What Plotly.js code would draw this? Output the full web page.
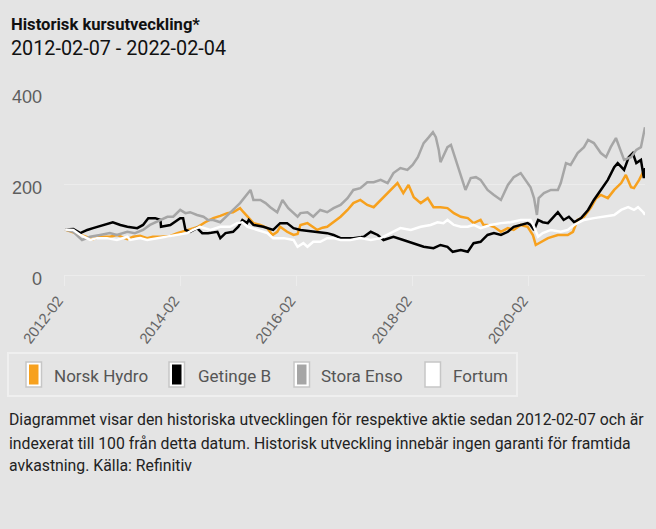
<!DOCTYPE html>
<html>
<head>
<meta charset="utf-8">
<script src="https://cdn.plot.ly/plotly-3.0.1.min.js"></script>
<style>html,body{margin:0;padding:0;background:#e4e4e4;}#chart{width:656px;height:529px;}</style>
</head>
<body>
<div id="chart"></div>
<script>
// Series names and colours
const seriesNames = ["Norsk Hydro", "Getinge B", "Stora Enso", "Fortum"];
const seriesColors = ["#f7a11e", "#000000", "#a6a6a6", "#ffffff"];

// Time in decimal years, value indexed to 100 at 2012-02-07
const hydroT = [2012.12,2012.24,2012.38,2012.48,2012.60,2012.72,2012.89,2013.01,2013.10,2013.19,2013.29,2013.41,2013.53,2013.63,2013.76,2013.93,2014.05,2014.22,2014.39,2014.53,2014.67,2014.79,2014.91,2015.01,2015.13,2015.19,2015.26,2015.36,2015.48,2015.60,2015.69,2015.77,2015.82,2015.94,2016.05,2016.12,2016.17,2016.29,2016.46,2016.55,2016.63,2016.74,2016.86,2016.98,2017.08,2017.20,2017.32,2017.43,2017.55,2017.63,2017.72,2017.84,2017.94,2018.03,2018.12,2018.24,2018.36,2018.46,2018.58,2018.70,2018.81,2018.93,2019.05,2019.15,2019.27,2019.32,2019.39,2019.50,2019.62,2019.74,2019.84,2019.96,2020.08,2020.17,2020.22,2020.31,2020.43,2020.60,2020.77,2020.86,2020.94,2021.05,2021.17,2021.26,2021.34,2021.46,2021.57,2021.69,2021.77,2021.86,2021.91,2022.00,2022.06,2022.10];
const hydroV = [100,95,88,84,79,84,84,88,84,79,84,86,81,84,84,86,92,99,105,116,125,130,136,138,147,138,128,114,110,103,88,95,106,95,88,90,110,114,99,104,106,116,128,143,158,165,154,149,165,175,187,202,180,198,171,158,169,149,149,147,136,128,125,114,121,110,110,106,95,103,99,110,106,88,66,73,81,88,88,95,121,128,149,169,176,169,187,202,220,193,191,209,224,226];

const getingeT = [2012.12,2012.26,2012.38,2012.50,2012.60,2012.77,2012.94,2013.07,2013.19,2013.36,2013.46,2013.55,2013.67,2013.76,2013.77,2013.93,2014.10,2014.15,2014.19,2014.27,2014.39,2014.48,2014.58,2014.74,2014.79,2014.88,2015.01,2015.10,2015.17,2015.25,2015.28,2015.36,2015.53,2015.70,2015.82,2015.94,2016.05,2016.17,2016.39,2016.63,2016.74,2016.86,2017.08,2017.26,2017.38,2017.50,2017.60,2017.77,2017.94,2018.12,2018.29,2018.46,2018.58,2018.70,2018.79,2018.93,2019.05,2019.15,2019.27,2019.39,2019.50,2019.62,2019.74,2019.84,2019.96,2020.08,2020.13,2020.19,2020.26,2020.34,2020.43,2020.53,2020.60,2020.70,2020.79,2020.88,2021.00,2021.12,2021.22,2021.34,2021.46,2021.57,2021.63,2021.74,2021.82,2021.89,2021.95,2022.03,2022.08,2022.10];
const getingeV = [100,101,92,99,103,110,116,110,106,103,110,125,125,121,106,110,125,125,99,95,103,92,92,95,81,92,95,106,121,114,121,110,106,99,114,114,103,99,95,92,88,81,81,84,95,88,77,84,77,70,62,59,66,62,51,55,51,70,73,88,92,88,95,106,110,114,110,99,121,116,114,128,138,121,128,116,125,143,165,187,209,237,246,231,259,268,246,253,213,235];

const storaT = [2012.12,2012.26,2012.41,2012.55,2012.72,2012.89,2013.01,2013.19,2013.32,2013.46,2013.58,2013.76,2013.88,2013.98,2014.10,2014.19,2014.27,2014.39,2014.50,2014.58,2014.67,2014.79,2014.91,2015.01,2015.13,2015.26,2015.31,2015.36,2015.48,2015.57,2015.65,2015.77,2015.86,2015.96,2016.12,2016.17,2016.29,2016.39,2016.51,2016.63,2016.74,2016.86,2016.98,2017.08,2017.20,2017.32,2017.43,2017.55,2017.67,2017.77,2017.89,2018.01,2018.10,2018.19,2018.29,2018.38,2018.45,2018.50,2018.55,2018.58,2018.70,2018.76,2018.84,2018.93,2019.01,2019.10,2019.19,2019.27,2019.39,2019.50,2019.62,2019.74,2019.84,2019.96,2020.05,2020.13,2020.19,2020.24,2020.27,2020.36,2020.48,2020.60,2020.65,2020.74,2020.82,2020.94,2021.05,2021.12,2021.22,2021.34,2021.43,2021.51,2021.60,2021.69,2021.74,2021.86,2021.95,2022.03,2022.07,2022.10];
const storaV = [100,95,77,84,88,92,88,95,92,99,110,121,128,128,143,136,138,132,128,121,121,116,132,143,158,180,187,165,165,158,149,138,165,147,128,136,138,128,143,138,147,154,169,187,191,204,204,209,202,224,235,231,242,259,290,303,314,303,275,248,281,286,253,215,187,213,215,209,187,176,165,198,215,224,209,193,169,132,169,180,187,187,202,246,242,268,281,297,290,268,259,281,301,268,253,259,275,281,303,325];

const fortumT = [2012.12,2012.26,2012.38,2012.55,2012.67,2012.84,2013.01,2013.19,2013.24,2013.41,2013.53,2013.70,2013.88,2014.05,2014.22,2014.32,2014.44,2014.62,2014.79,2014.96,2015.08,2015.17,2015.26,2015.43,2015.60,2015.70,2015.88,2016.05,2016.12,2016.22,2016.29,2016.39,2016.51,2016.63,2016.74,2016.86,2017.03,2017.20,2017.38,2017.55,2017.72,2017.89,2018.07,2018.24,2018.41,2018.53,2018.63,2018.70,2018.81,2018.93,2019.05,2019.15,2019.27,2019.44,2019.62,2019.79,2019.96,2020.13,2020.19,2020.26,2020.34,2020.48,2020.65,2020.77,2020.88,2021.05,2021.22,2021.39,2021.57,2021.69,2021.81,2021.91,2021.98,2022.07,2022.10];
const fortumV = [100,99,88,77,81,81,77,84,77,81,77,81,84,88,92,99,106,99,106,106,114,116,106,99,92,81,81,77,62,70,62,73,73,81,81,77,77,81,77,81,92,103,99,106,110,116,114,121,110,106,106,110,103,110,114,116,121,121,106,84,92,99,95,99,110,121,125,128,132,143,149,143,149,138,132];

// Axis ticks
const yTicks = [0, 200, 400];
const xTickVals = [2012.1, 2014.1, 2016.1, 2018.1, 2020.1];
const xTickText = ["2012-02", "2014-02", "2016-02", "2018-02", "2020-02"];

// Texts
const titleText = "Historisk kursutveckling*";
const subtitleText = "2012-02-07 - 2022-02-04";
const noteLines = [
  "Diagrammet visar den historiska utvecklingen för respektive aktie sedan 2012-02-07 och är",
  "indexerat till 100 från detta datum. Historisk utveckling innebär ingen garanti för framtida",
  "avkastning. Källa: Refinitiv"
];

const seriesT = [hydroT, getingeT, storaT, fortumT];
const seriesV = [hydroV, getingeV, storaV, fortumV];

const traces = seriesNames.map((n, i) => ({
  type: "scatter", mode: "lines", name: n,
  x: seriesT[i], y: seriesV[i],
  line: {color: seriesColors[i], width: 2.5},
  showlegend: false, hoverinfo: "skip"
}));

// plot area geometry helpers (paper coords)
const L = 64, R = 11, T = 93, B = 254, W = 656, H = 529;
const pw = W - L - R, ph = H - T - B;
const px = v => (v - L) / pw;
const py = v => (H - B - v) / ph;

const annotations = [];
const shapes = [];
const font = "Roboto, 'Open Sans', sans-serif";

annotations.push({xref:"paper", yref:"paper", x:px(9), y:py(24), xanchor:"left", yanchor:"middle",
  text:"<b>"+titleText+"</b>", showarrow:false, font:{family:font, size:16.6, color:"#111"}});
annotations.push({xref:"paper", yref:"paper", x:px(9), y:py(48), xanchor:"left", yanchor:"middle",
  text:subtitleText, showarrow:false, font:{family:font, size:19.8, color:"#111"}});
noteLines.forEach((s, i) => annotations.push({xref:"paper", yref:"paper", x:px(7), y:py(420 + 23*i),
  xanchor:"left", yanchor:"middle", text:s, showarrow:false, font:{family:font, size:15.8, color:"#222"}}));

// custom legend
shapes.push({type:"rect", xref:"paper", yref:"paper", x0:px(8), x1:px(517), y0:py(396), y1:py(353),
  line:{color:"#efefef", width:2}, fillcolor:"rgba(0,0,0,0)"});
const swX = [26, 169, 294, 425];
const txX = [52, 196, 319, 451];
seriesNames.forEach((n, i) => {
  shapes.push({type:"rect", xref:"paper", yref:"paper", x0:px(swX[i]), x1:px(swX[i]+15.5), y0:py(387), y1:py(362),
    line:{color:"#c6c6c6", width:1.5}, fillcolor:"#ffffff"});
  shapes.push({type:"rect", xref:"paper", yref:"paper", x0:px(swX[i]+3), x1:px(swX[i]+12.5), y0:py(384.5), y1:py(364.5),
    line:{width:0}, fillcolor:seriesColors[i]});
  annotations.push({xref:"paper", yref:"paper", x:px(txX[i]), y:py(375.5), xanchor:"left", yanchor:"middle",
    text:n, showarrow:false, font:{family:font, size:17, color:"#555"}});
});

const layout = {
  width: W, height: H,
  margin: {l: L, r: R, t: T, b: B},
  paper_bgcolor: "#e4e4e4", plot_bgcolor: "#e4e4e4",
  showlegend: false,
  xaxis: {type:"linear", range:[2012.1, 2022.1], tickvals:xTickVals, ticktext:xTickText,
    tickangle:-52.5, ticks:"outside", ticklen:10, tickcolor:"#ececec", tickwidth:1,
    ticklabelshift:-6,
    showgrid:false, zeroline:false, showline:false,
    tickfont:{family:"'Liberation Sans', Arial, sans-serif", size:15, color:"#666"}},
  yaxis: {range:[0, 400], tickvals:yTicks, showgrid:true, gridcolor:"#ececec", gridwidth:1,
    zeroline:true, zerolinecolor:"#ececec", zerolinewidth:1, showline:false, ticks:"",
    ticklabelstandoff:21, ticklabelshift:4,
    tickfont:{family:"'Liberation Sans', Arial, sans-serif", size:18, color:"#5e5e5e"}},
  annotations: annotations, shapes: shapes
};

Plotly.newPlot("chart", traces, layout, {displayModeBar:false, staticPlot:true});
</script>
</body>
</html>
